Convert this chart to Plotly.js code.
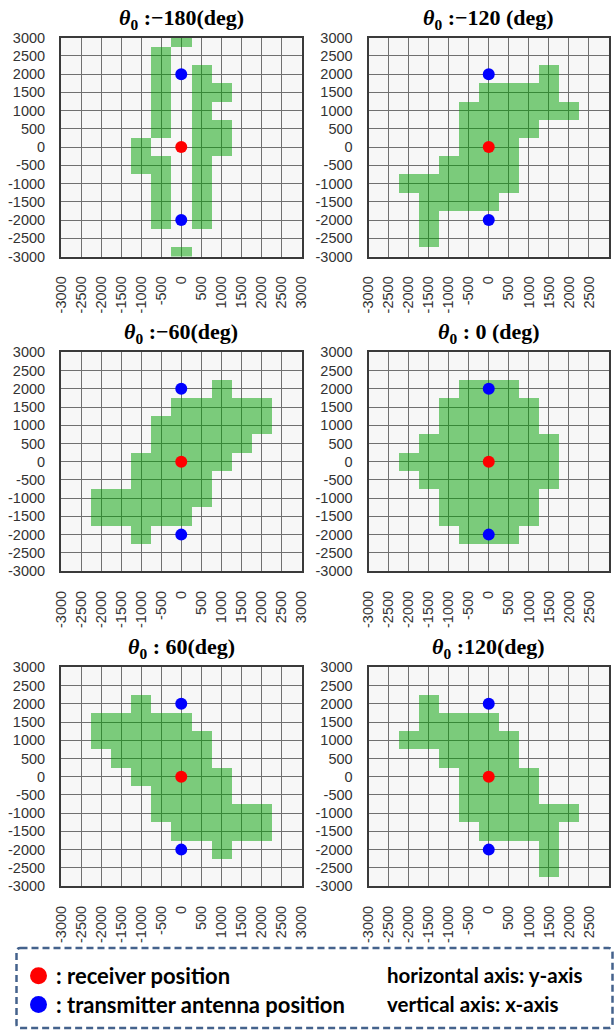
<!DOCTYPE html>
<html><head><meta charset="utf-8">
<script src="https://cdn.plot.ly/plotly-3.0.1.min.js"></script>
<style>html,body{margin:0;padding:0;background:#fff}#chart{width:616px;height:1031px}</style>
</head><body><div id="chart"></div>
<script>
// ---- data ----
const axisValues = [-3000,-2500,-2000,-1500,-1000,-500,0,500,1000,1500,2000,2500,3000];
const tickLabels = ["-3000","-2500","-2000","-1500","-1000","-500","0","500","1000","1500","2000","2500","3000"];
// rows listed from y = 3000 (top) down to y = -3000; columns x = -3000 ... 3000
const coverageM180 = [
  "......1......",
  ".....1.......",
  ".....1.1.....",
  ".....1.11....",
  ".....1.1.....",
  ".....1.11....",
  "....1..11....",
  "....11.1.....",
  ".....1.1.....",
  ".....1.1.....",
  ".....1.1.....",
  ".............",
  "......1......"
];
const coverageM120 = [
  ".............",
  ".............",
  ".........1...",
  "......1111...",
  ".....111111..",
  ".....1111....",
  ".....111.....",
  "....1111.....",
  "..111111.....",
  "...1111......",
  "...1.........",
  "...1.........",
  "............."
];
const coverageM60 = [
  ".............",
  ".............",
  "........1....",
  "......11111..",
  ".....111111..",
  ".....11111...",
  "....11111....",
  "....1111.....",
  "..111111.....",
  "..11111......",
  "....1........",
  ".............",
  "............."
];
const coverage0 = [
  ".............",
  ".............",
  ".....111.....",
  "....11111....",
  "....11111....",
  "...1111111...",
  "..11111111...",
  "...1111111...",
  "....11111....",
  "....11111....",
  ".....111.....",
  ".............",
  "............."
];
const coverage60 = [
  ".............",
  ".............",
  "....1........",
  "..11111......",
  "..111111.....",
  "...11111.....",
  "....11111....",
  ".....1111....",
  ".....111111..",
  "......11111..",
  "........1....",
  ".............",
  "............."
];
const coverage120 = [
  ".............",
  ".............",
  "...1.........",
  "...1111......",
  "..111111.....",
  "....1111.....",
  ".....1111....",
  ".....1111....",
  ".....111111..",
  "......1111...",
  ".........1...",
  ".........1...",
  "............."
];
const panelTitles = [
  "<b><i>θ</i><sub>0</sub> :−180(deg)</b>",
  "<b><i>θ</i><sub>0</sub> :−120 (deg)</b>",
  "<b><i>θ</i><sub>0</sub> :−60(deg)</b>",
  "<b><i>θ</i><sub>0</sub> : 0 (deg)</b>",
  "<b><i>θ</i><sub>0</sub> : 60(deg)</b>",
  "<b><i>θ</i><sub>0</sub> :120(deg)</b>"
];
const coverages = [coverageM180, coverageM120, coverageM60, coverage0, coverage60, coverage120];
const receiverX = [0], receiverY = [0];
const transmitterX = [0, 0], transmitterY = [2000, -2000];
const legendTexts = [": receiver position", ": transmitter antenna position"];
const axisNotes = ["horizontal axis: y-axis", "vertical axis: x-axis"];

// ---- layout geometry (px) ----
const W = 616, H = 1031;
const colLeft = [61, 368.5], colWidth = 240.5;
const rowTop = [37.7, 352.3, 667.3], rowHeight = 218.8;
const px = v => v / W, py = v => 1 - v / H;

const traces = [];
const layout = {
  width: W, height: H,
  margin: {l: 0, r: 0, t: 0, b: 0},
  paper_bgcolor: '#ffffff',
  plot_bgcolor: '#f7f7f7',
  showlegend: false,
  annotations: [],
  shapes: []
};

coverages.forEach((rows, k) => {
  const n = k + 1;
  const xa = 'x' + (n === 1 ? '' : n), ya = 'y' + (n === 1 ? '' : n);
  const col = k % 2, row = Math.floor(k / 2);
  const yAsc = axisValues.slice();
  const z = yAsc.map(yv => {
    const r = rows[(3000 - yv) / 500];
    return axisValues.map((xv, i) => r[i] === '1' ? 1 : null);
  });
  traces.push({
    type: 'heatmap', x: axisValues, y: yAsc, z: z,
    zmin: 0, zmax: 1, zsmooth: false,
    colorscale: [[0, 'rgb(0,160,0)'], [1, 'rgb(0,160,0)']],
    opacity: 0.5, showscale: false, hoverinfo: 'skip',
    xaxis: xa, yaxis: ya
  });
  traces.push({
    type: 'scatter', mode: 'markers', x: transmitterX, y: transmitterY,
    marker: {color: '#0000ff', size: 12}, xaxis: xa, yaxis: ya, cliponaxis: false
  });
  traces.push({
    type: 'scatter', mode: 'markers', x: receiverX, y: receiverY,
    marker: {color: '#ff0000', size: 12}, xaxis: xa, yaxis: ya, cliponaxis: false
  });
  const common = {
    range: [-3000.5, 3000.5], tickmode: 'array', tickvals: axisValues, ticktext: tickLabels,
    showgrid: true, gridcolor: '#707070', gridwidth: 1, zeroline: false,
    showline: true, mirror: true, linecolor: '#3a3a3a', linewidth: 2,
    ticks: '', fixedrange: true,
    tickfont: {family: "'Liberation Sans', Arial, sans-serif", size: 14.5, color: '#333333'}
  };
  layout['xaxis' + (n === 1 ? '' : n)] = Object.assign({}, common, {
    domain: [px(colLeft[col]), px(colLeft[col] + colWidth)],
    anchor: ya, tickangle: -90, ticklabelstandoff: 12
  });
  layout['yaxis' + (n === 1 ? '' : n)] = Object.assign({}, common, {
    domain: [py(rowTop[row] + rowHeight), py(rowTop[row])],
    anchor: xa, ticklabelstandoff: 11
  });
  layout.annotations.push({
    text: panelTitles[k], xref: 'paper', yref: 'paper', showarrow: false,
    x: px(colLeft[col] + colWidth / 2), y: py(rowTop[row] - 19),
    xanchor: 'center', yanchor: 'middle',
    font: {family: "'Liberation Serif', 'Times New Roman', serif", size: 22, color: '#000'}
  });
});

// ---- legend box ----
const bx0 = 16.5, bx1 = 612.5, by0 = 948, by1 = 1028, rr = 4;
const X = v => px(v).toFixed(5), Y = v => py(v).toFixed(5);
layout.shapes.push({
  type: 'path', xref: 'paper', yref: 'paper',
  path: `M${X(bx0+rr)},${Y(by0)} L${X(bx1-rr)},${Y(by0)} Q${X(bx1)},${Y(by0)} ${X(bx1)},${Y(by0+rr)} ` +
        `L${X(bx1)},${Y(by1-rr)} Q${X(bx1)},${Y(by1)} ${X(bx1-rr)},${Y(by1)} ` +
        `L${X(bx0+rr)},${Y(by1)} Q${X(bx0)},${Y(by1)} ${X(bx0)},${Y(by1-rr)} ` +
        `L${X(bx0)},${Y(by0+rr)} Q${X(bx0)},${Y(by0)} ${X(bx0+rr)},${Y(by0)} Z`,
  line: {color: '#44628c', width: 2.5, dash: '7px,4px'},
  fillcolor: 'rgba(0,0,0,0)'
});
const dotColors = ['#ff0000', '#0000ff'];
const dotY = [975.7, 1004.5];
dotColors.forEach((c, i) => {
  layout.shapes.push({
    type: 'circle', xref: 'paper', yref: 'paper',
    x0: px(30), x1: px(47), y0: py(dotY[i] + 8.5), y1: py(dotY[i] - 8.5),
    fillcolor: c, line: {width: 0}
  });
  layout.annotations.push({
    text: legendTexts[i], xref: 'paper', yref: 'paper', showarrow: false,
    x: px(54), y: py(dotY[i]), xanchor: 'left', yanchor: 'middle',
    font: {family: 'Lato, sans-serif', size: 22, color: '#000', weight: 700}
  });
  layout.annotations.push({
    text: axisNotes[i], xref: 'paper', yref: 'paper', showarrow: false,
    x: px(385), y: py(dotY[i] - 1), xanchor: 'left', yanchor: 'middle',
    font: {family: 'Lato, sans-serif', size: 20.5, color: '#000', weight: 700}
  });
});

Plotly.newPlot('chart', traces, layout, {staticPlot: true, displayModeBar: false});
</script></body></html>
